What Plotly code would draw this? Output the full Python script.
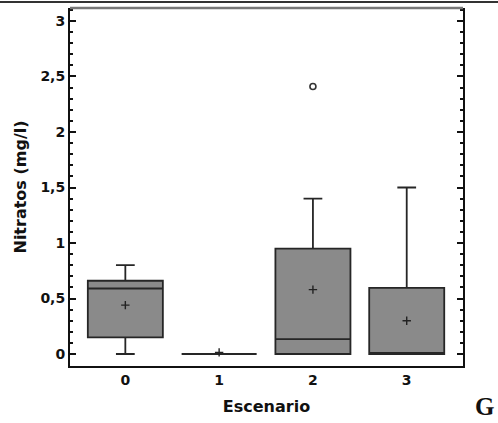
import plotly.graph_objects as go

# Data
escenarios = [0, 1, 2, 3]
q1 = [0.15, 0.0, 0.0, 0.0]
medianas = [0.59, 0.0, 0.135, 0.0]
q3 = [0.66, 0.0, 0.95, 0.595]
minimos = [0.0, 0.0, 0.0, 0.0]
maximos = [0.80, 0.0, 1.40, 1.50]
medias = [0.44, 0.015, 0.58, 0.30]
atipicos_x = [2]
atipicos_y = [2.41]
y_ticks = [0, 0.5, 1, 1.5, 2, 2.5, 3]
y_labels = ["0", "0,5", "1", "1,5", "2", "2,5", "3"]
x_ticks = [0, 1, 2, 3]
x_labels = ["0", "1", "2", "3"]

fig = go.Figure()
fig.add_trace(go.Box(
    x=escenarios, q1=q1, median=medianas, q3=q3,
    lowerfence=minimos, upperfence=maximos,
    width=0.8, whiskerwidth=0.25,
    fillcolor="#8a8a8a", line=dict(color="#262626", width=1.8),
    boxpoints=False, showlegend=False, hoverinfo="skip",
))
fig.add_trace(go.Scatter(
    x=escenarios, y=medias, mode="markers",
    marker=dict(symbol="cross-thin", size=6, line=dict(color="#222222", width=1.4)),
    showlegend=False, hoverinfo="skip",
))
fig.add_trace(go.Scatter(
    x=atipicos_x, y=atipicos_y, mode="markers",
    marker=dict(symbol="circle-open", size=6, color="#333333", line=dict(width=1.6)),
    showlegend=False, hoverinfo="skip",
))

font_family = "DejaVu Sans, Arial, sans-serif"

fig.update_layout(
    width=498, height=423,
    margin=dict(l=70, r=35, t=8, b=57),
    paper_bgcolor="white", plot_bgcolor="white",
    separators=",.",
    font=dict(family=font_family, color="#111111"),
    xaxis=dict(
        range=[-0.59, 3.6], tickvals=x_ticks,
        ticktext=["<b>%s</b>" % t for t in x_labels],
        ticks="", showgrid=False, zeroline=False,
        showline=True, linecolor="#111111", linewidth=2,
        tickfont=dict(size=14, family=font_family),
        title=dict(text="<b>Escenario</b>", font=dict(size=16, family=font_family), standoff=14),
    ),
    yaxis=dict(
        range=[-0.108, 3.117], tickvals=y_ticks,
        ticktext=["<b>%s</b>" % t for t in y_labels],
        ticks="inside", ticklen=6, tickwidth=2, tickcolor="#111111",
        minor=dict(dtick=0.1, ticks="inside", ticklen=3, tickwidth=1.5, tickcolor="#111111"),
        showgrid=False, zeroline=False,
        showline=True, linecolor="#111111", linewidth=2, mirror="ticks",
        tickfont=dict(size=14, family=font_family),
        title=dict(text="<b>Nitratos (mg/l)</b>", font=dict(size=16, family=font_family), standoff=10),
    ),
    shapes=[
        dict(type="line", xref="paper", yref="paper", x0=-0.2, x1=1.2, y0=1.0168, y1=1.0168,
             line=dict(color="#333333", width=2)),
        dict(type="line", xref="paper", yref="paper", x0=0, x1=1, y0=1.0, y1=1.0,
             line=dict(color="#777777", width=2.5)),
    ],
    annotations=[
        dict(text="<b>G</b>", xref="paper", yref="paper", x=1.084, y=-0.1145,
             xanchor="right", yanchor="middle", showarrow=False,
             font=dict(size=25, family="Liberation Serif, Times New Roman, serif", color="#111111")),
    ],
)

fig.write_html("out.html")
